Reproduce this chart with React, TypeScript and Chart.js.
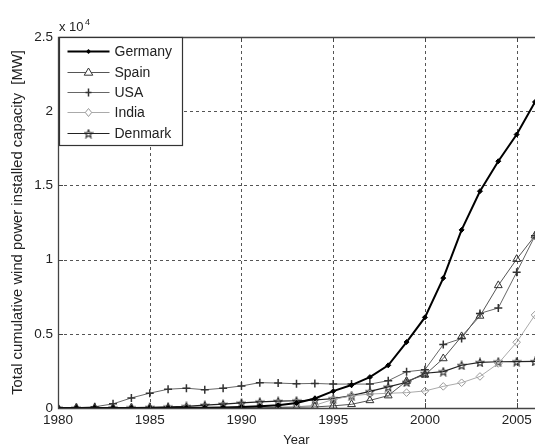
import React, { useEffect, useRef } from 'react';
import { Chart, registerables } from 'chart.js';

Chart.register(...registerables);

const years = [1980, 1981, 1982, 1983, 1984, 1985, 1986, 1987, 1988, 1989, 1990, 1991, 1992, 1993, 1994, 1995, 1996, 1997, 1998, 1999, 2000, 2001, 2002, 2003, 2004, 2005, 2006];
const germany = [0, 1, 2, 3, 4, 5, 7, 10, 15, 27, 62, 112, 183, 334, 643, 1137, 1546, 2080, 2874, 4445, 6107, 8754, 12001, 14609, 16629, 18428, 20622];
const spain = [0, 0, 0, 0, 0, 0, 0, 0, 1, 3, 7, 7, 46, 52, 73, 145, 249, 512, 834, 1812, 2235, 3337, 4825, 6203, 8263, 10028, 11615];
const usa = [10, 20, 80, 280, 680, 1000, 1265, 1333, 1231, 1332, 1484, 1709, 1680, 1635, 1656, 1612, 1614, 1611, 1837, 2445, 2578, 4275, 4685, 6374, 6740, 9149, 11603];
const india = [0, 0, 0, 0, 0, 0, 0, 0, 0, 10, 20, 39, 39, 79, 185, 576, 820, 940, 992, 1035, 1150, 1456, 1702, 2125, 3000, 4430, 6270];
const denmark = [5, 7, 12, 20, 27, 50, 82, 115, 197, 262, 343, 413, 458, 488, 539, 637, 835, 1116, 1420, 1738, 2341, 2456, 2880, 3076, 3118, 3128, 3136];

const seriesNames = ['Germany', 'Spain', 'USA', 'India', 'Denmark'];
const xTickValues = [1980, 1985, 1990, 1995, 2000, 2005];
const yTickValues = [0, 5000, 10000, 15000, 20000, 25000];
const yTickLabels = ['0', '0.5', '1', '1.5', '2', '2.5'];

const FONT = '"Liberation Sans", Arial, Helvetica, sans-serif';

function makeStar(size: number, color: string): HTMLCanvasElement {
  const c = document.createElement('canvas');
  c.width = size;
  c.height = size;
  const ctx = c.getContext('2d')!;
  const cx = size / 2, cy = size / 2 + 0.5;
  const R = size / 2 - 0.8, r = R * 0.45;
  ctx.beginPath();
  for (let i = 0; i < 10; i++) {
    const a = -Math.PI / 2 + (i * Math.PI) / 5;
    const rad = i % 2 ? r : R;
    ctx.lineTo(cx + rad * Math.cos(a), cy + rad * Math.sin(a));
  }
  ctx.closePath();
  ctx.strokeStyle = color;
  ctx.lineWidth = 1.1;
  ctx.stroke();
  return c;
}

function drawMarker(ctx: CanvasRenderingContext2D, kind: string, x: number, y: number, color: string, star?: HTMLCanvasElement) {
  ctx.save();
  ctx.strokeStyle = color;
  ctx.fillStyle = color;
  ctx.lineWidth = 1;
  ctx.beginPath();
  if (kind === 'dot') {
    ctx.moveTo(x, y - 2.5); ctx.lineTo(x + 2.5, y); ctx.lineTo(x, y + 2.5); ctx.lineTo(x - 2.5, y); ctx.closePath();
    ctx.fill();
  } else if (kind === 'tri') {
    const r = 4.5;
    ctx.moveTo(x, y - r); ctx.lineTo(x + r * 0.95, y + r * 0.6); ctx.lineTo(x - r * 0.95, y + r * 0.6); ctx.closePath();
    ctx.fillStyle = '#fff'; ctx.fill(); ctx.stroke();
  } else if (kind === 'cross') {
    ctx.lineWidth = 1.5;
    ctx.moveTo(x, y - 4); ctx.lineTo(x, y + 4); ctx.moveTo(x - 3, y); ctx.lineTo(x + 3, y);
    ctx.stroke();
  } else if (kind === 'diamond') {
    const r = 4;
    ctx.moveTo(x, y - r); ctx.lineTo(x + r * 0.8, y); ctx.lineTo(x, y + r); ctx.lineTo(x - r * 0.8, y); ctx.closePath();
    ctx.fillStyle = '#fff'; ctx.fill(); ctx.stroke();
  } else if (kind === 'star' && star) {
    ctx.drawImage(star, x - star.width / 2, y - star.height / 2);
  }
  ctx.restore();
}

export default function App() {
  const ref = useRef<HTMLCanvasElement | null>(null);

  useEffect(() => {
    if (!ref.current) return;
    const star = makeStar(10, '#222');
    const pts = (vals: number[]) => years.map((yr, i) => ({ x: yr, y: vals[i] }));

    const styles = [
      { line: '#000', width: 2, marker: 'dot', mcolor: '#000' },
      { line: '#555', width: 1, marker: 'tri', mcolor: '#333' },
      { line: '#666', width: 1, marker: 'cross', mcolor: '#333' },
      { line: '#aaa', width: 1, marker: 'diamond', mcolor: '#999' },
      { line: '#222', width: 1.2, marker: 'star', mcolor: '#222' },
    ];

    const frame = {
      id: 'matlabFrame',
      beforeDatasetsDraw(chart: any) {
        const { ctx, chartArea: a, scales } = chart;
        const xs = scales.x, ys = scales.y;
        ctx.save();
        ctx.strokeStyle = '#555';
        ctx.lineWidth = 1;
        ctx.setLineDash([3, 3]);
        xTickValues.forEach((v) => {
          if (v === 1980) return;
          const px = Math.round(xs.getPixelForValue(v)) + 0.5;
          ctx.beginPath(); ctx.moveTo(px, a.bottom); ctx.lineTo(px, a.top); ctx.stroke();
        });
        yTickValues.forEach((v) => {
          if (v === 0 || v === 25000) return;
          const py = Math.round(ys.getPixelForValue(v)) + 0.5;
          ctx.beginPath(); ctx.moveTo(a.left, py); ctx.lineTo(a.right, py); ctx.stroke();
        });
        ctx.restore();
      },
      afterDatasetsDraw(chart: any) {
        const { ctx, chartArea: a, scales } = chart;
        const xs = scales.x, ys = scales.y;
        ctx.save();
        ctx.strokeStyle = '#444';
        ctx.lineWidth = 1.3;
        ctx.setLineDash([]);
        ctx.beginPath();
        ctx.moveTo(a.right + 2, a.top + 0.5); ctx.lineTo(a.left + 0.5, a.top + 0.5);
        ctx.lineTo(a.left + 0.5, a.bottom + 0.5); ctx.lineTo(a.right + 2, a.bottom + 0.5);
        ctx.stroke();
        ctx.lineWidth = 1;
        xTickValues.forEach((v) => {
          const px = Math.round(xs.getPixelForValue(v)) + 0.5;
          ctx.beginPath(); ctx.moveTo(px, a.bottom); ctx.lineTo(px, a.bottom - 5);
          ctx.moveTo(px, a.top); ctx.lineTo(px, a.top + 5); ctx.stroke();
        });
        yTickValues.forEach((v) => {
          const py = Math.round(ys.getPixelForValue(v)) + 0.5;
          ctx.beginPath(); ctx.moveTo(a.left, py); ctx.lineTo(a.left + 5, py); ctx.stroke();
        });

        // legend
        const bx = a.left + 1.5, by = a.top + 0.5, bw = 123, bh = 108;
        ctx.fillStyle = '#fff';
        ctx.fillRect(bx, by, bw, bh);
        ctx.strokeStyle = '#333';
        ctx.lineWidth = 1.2;
        ctx.strokeRect(bx, by, bw, bh);
        const rowY = [14, 35, 55, 75, 96];
        chart.data.datasets.forEach((ds: any, i: number) => {
          const st = styles[i];
          const y = by + rowY[i];
          ctx.save();
          ctx.strokeStyle = st.line;
          ctx.lineWidth = st.width;
          ctx.beginPath(); ctx.moveTo(bx + 8, y); ctx.lineTo(bx + 50, y); ctx.stroke();
          ctx.restore();
          drawMarker(ctx, st.marker, bx + 29, y, st.mcolor, star);
          ctx.fillStyle = '#222';
          ctx.font = `14px ${FONT}`;
          ctx.textBaseline = 'middle';
          ctx.textAlign = 'left';
          ctx.fillText(ds.label, bx + 55, y + 1);
        });

        // exponent label
        ctx.fillStyle = '#222';
        ctx.textBaseline = 'alphabetic';
        ctx.font = `13px ${FONT}`;
        ctx.fillText('x 10', 59, 31);
        ctx.font = `9px ${FONT}`;
        ctx.fillText('4', 85, 25);
        ctx.restore();
      },
    };

    const markerCfg = (i: number) => {
      const st = styles[i];
      if (st.marker === 'dot') return { pointStyle: 'rectRot', pointRadius: 2.5, pointBackgroundColor: '#000', pointBorderColor: '#000', pointBorderWidth: 1 };
      if (st.marker === 'tri') return { pointStyle: 'triangle', pointRadius: 4.5, pointBackgroundColor: 'rgba(255,255,255,0)', pointBorderColor: '#333', pointBorderWidth: 1 };
      if (st.marker === 'cross') return { pointStyle: 'cross', pointRadius: 4, pointBackgroundColor: '#333', pointBorderColor: '#333', pointBorderWidth: 1.5 };
      if (st.marker === 'diamond') return { pointStyle: 'rectRot', pointRadius: 3.8, pointBackgroundColor: 'rgba(255,255,255,0)', pointBorderColor: '#999', pointBorderWidth: 1 };
      return { pointStyle: star, pointRadius: 5, pointBackgroundColor: '#222', pointBorderColor: '#222', pointBorderWidth: 1 };
    };

    const allVals = [germany, spain, usa, india, denmark];

    const chart = new Chart(ref.current, {
      type: 'line',
      data: {
        datasets: seriesNames.map((name, i) => ({
          label: name,
          data: pts(allVals[i]),
          borderColor: styles[i].line,
          borderWidth: styles[i].width,
          tension: 0,
          fill: false,
          ...markerCfg(i),
        })) as any,
      },
      options: {
        animation: false,
        responsive: false,
        maintainAspectRatio: false,
        layout: { autoPadding: false, padding: { top: 37, left: 0, right: 0, bottom: 0 } },
        plugins: { legend: { display: false }, tooltip: { enabled: false } },
        scales: {
          x: {
            type: 'linear',
            min: 1980,
            max: 2006,
            afterBuildTicks: (s: any) => { s.ticks = xTickValues.map((v) => ({ value: v })); },
            afterFit: (s: any) => { s.height = 36; s.paddingRight = 0; s.paddingLeft = 0; },
            grid: { display: false, drawTicks: false },
            border: { display: false },
            ticks: {
              autoSkip: false,
              maxRotation: 0,
              padding: 4,
              color: '#222',
              font: { family: FONT, size: 13.5 },
              callback: (v: any) => String(v),
            },
            title: { display: true, text: 'Year', color: '#222', font: { family: FONT, size: 13 }, padding: { top: 0, bottom: -4 } },
          },
          y: {
            type: 'linear',
            min: 0,
            max: 25000,
            afterBuildTicks: (s: any) => { s.ticks = yTickValues.map((v) => ({ value: v })); },
            afterFit: (s: any) => { s.width = 58; },
            grid: { display: false, drawTicks: false },
            border: { display: false },
            ticks: {
              padding: 5,
              color: '#222',
              font: { family: FONT, size: 13.5 },
              callback: (v: any) => {
                const idx = yTickValues.indexOf(Number(v));
                return idx >= 0 ? yTickLabels[idx] : '';
              },
            },
            title: {
              display: true,
              text: 'Total cumulative wind power installed capacity  [MW]',
              color: '#222',
              font: { family: FONT, size: 14.8 },
              padding: { top: 9, bottom: 0 },
            },
          },
        },
      },
      plugins: [frame],
    } as any);

    return () => chart.destroy();
  }, []);

  return (
    <div style={{ position: 'fixed', left: 0, top: 0, width: 535, height: 444, background: '#fff' }}>
      <canvas ref={ref} width={535} height={444} style={{ display: 'block', width: 535, height: 444 }} />
    </div>
  );
}
